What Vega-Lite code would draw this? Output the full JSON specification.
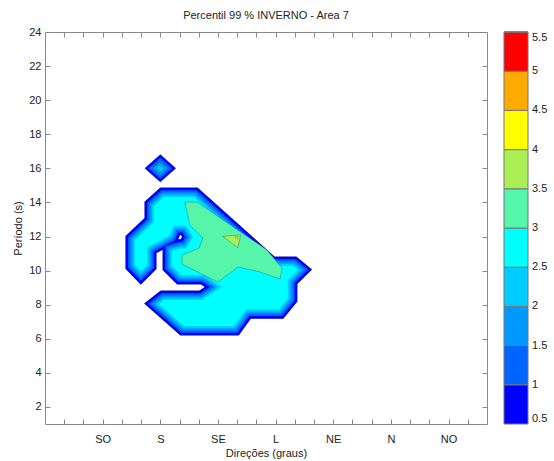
{
  "$schema": "https://vega.github.io/schema/vega-lite/v6.json",
  "padding": {"left": 12, "top": 10, "right": 2, "bottom": 4},
  "width": 442,
  "height": 392,
  "title": {"text": "Percentil 99 % INVERNO  - Area 7", "frame": "group", "offset": 5},
  "config": {
    "view": {"stroke": null},
    "font": "Liberation Sans",
    "axis": {"grid": false, "domainColor": "#888", "tickColor": "#888", "labelColor": "#222", "titleColor": "#222", "labelFont": "Liberation Sans", "titleFont": "Liberation Sans", "labelFontSize": 11, "titleFontSize": 11, "titleFontWeight": "normal", "tickSize": -5},
    "title": {"font": "Liberation Sans", "fontSize": 11, "fontWeight": "normal", "color": "#222"}
  },
  "datasets": {
    "blob": [
      {"i": 0, "X": 7.97, "Y": 14.32}, {"i": 1, "X": 8.75, "Y": 14.32}, {"i": 2, "X": 12.76, "Y": 10.27}, {"i": 3, "X": 13.90, "Y": 10.27},
      {"i": 4, "X": 14.16, "Y": 10.03}, {"i": 5, "X": 13.64, "Y": 9.45}, {"i": 6, "X": 13.64, "Y": 8.39}, {"i": 7, "X": 13.17, "Y": 7.74},
      {"i": 8, "X": 11.46, "Y": 7.74}, {"i": 9, "X": 10.83, "Y": 6.75}, {"i": 10, "X": 8.23, "Y": 6.75}, {"i": 11, "X": 6.93, "Y": 8.04},
      {"i": 12, "X": 7.19, "Y": 8.27}, {"i": 13, "X": 9.17, "Y": 8.27}, {"i": 14, "X": 10.21, "Y": 9.04}, {"i": 15, "X": 9.27, "Y": 9.74},
      {"i": 16, "X": 8.08, "Y": 9.74}, {"i": 17, "X": 7.61, "Y": 10.27}, {"i": 18, "X": 7.61, "Y": 11.15}, {"i": 19, "X": 8.02, "Y": 11.29},
      {"i": 20, "X": 8.36, "Y": 11.31}, {"i": 21, "X": 8.70, "Y": 11.97}, {"i": 22, "X": 8.36, "Y": 12.63}, {"i": 23, "X": 7.69, "Y": 12.63},
      {"i": 24, "X": 7.48, "Y": 12.06}, {"i": 25, "X": 6.31, "Y": 11.36}, {"i": 26, "X": 6.31, "Y": 10.33}, {"i": 27, "X": 5.99, "Y": 9.97},
      {"i": 28, "X": 5.68, "Y": 10.33}, {"i": 29, "X": 5.68, "Y": 11.79}, {"i": 30, "X": 6.67, "Y": 12.85}, {"i": 31, "X": 6.67, "Y": 13.79},
      {"i": 32, "X": 7.19, "Y": 14.32}, {"i": 33, "X": 7.97, "Y": 14.32}
    ],
    "polys": [
      {"p": "a1", "lvl": 0.75, "i": 0, "X": 6.192, "Y": 16}, {"p": "a1", "lvl": 0.75, "i": 1, "X": 7, "Y": 16.808}, {"p": "a1", "lvl": 0.75, "i": 2, "X": 7.808, "Y": 16}, {"p": "a1", "lvl": 0.75, "i": 3, "X": 7, "Y": 15.192}, {"p": "a1", "lvl": 0.75, "i": 4, "X": 6.192, "Y": 16},
      {"p": "a2", "lvl": 1.25, "i": 0, "X": 6.385, "Y": 16}, {"p": "a2", "lvl": 1.25, "i": 1, "X": 7, "Y": 16.615}, {"p": "a2", "lvl": 1.25, "i": 2, "X": 7.615, "Y": 16}, {"p": "a2", "lvl": 1.25, "i": 3, "X": 7, "Y": 15.385}, {"p": "a2", "lvl": 1.25, "i": 4, "X": 6.385, "Y": 16},
      {"p": "a3", "lvl": 1.75, "i": 0, "X": 6.577, "Y": 16}, {"p": "a3", "lvl": 1.75, "i": 1, "X": 7, "Y": 16.423}, {"p": "a3", "lvl": 1.75, "i": 2, "X": 7.423, "Y": 16}, {"p": "a3", "lvl": 1.75, "i": 3, "X": 7, "Y": 15.577}, {"p": "a3", "lvl": 1.75, "i": 4, "X": 6.577, "Y": 16},
      {"p": "a4", "lvl": 2.25, "i": 0, "X": 6.769, "Y": 16}, {"p": "a4", "lvl": 2.25, "i": 1, "X": 7, "Y": 16.231}, {"p": "a4", "lvl": 2.25, "i": 2, "X": 7.231, "Y": 16}, {"p": "a4", "lvl": 2.25, "i": 3, "X": 7, "Y": 15.769}, {"p": "a4", "lvl": 2.25, "i": 4, "X": 6.769, "Y": 16},
      {"p": "a5", "lvl": 2.75, "i": 0, "X": 6.94, "Y": 16}, {"p": "a5", "lvl": 2.75, "i": 1, "X": 7, "Y": 16.06}, {"p": "a5", "lvl": 2.75, "i": 2, "X": 7.06, "Y": 16}, {"p": "a5", "lvl": 2.75, "i": 3, "X": 7, "Y": 15.94}, {"p": "a5", "lvl": 2.75, "i": 4, "X": 6.94, "Y": 16},
      {"p": "b1", "lvl": 3.25, "i": 0, "X": 8.6, "Y": 14.02}, {"p": "b1", "lvl": 3.25, "i": 1, "X": 8.91, "Y": 14.02}, {"p": "b1", "lvl": 3.25, "i": 2, "X": 12.55, "Y": 11.21}, {"p": "b1", "lvl": 3.25, "i": 3, "X": 13.33, "Y": 10.15},
      {"p": "b1", "lvl": 3.25, "i": 4, "X": 13.23, "Y": 9.50}, {"p": "b1", "lvl": 3.25, "i": 5, "X": 12.19, "Y": 9.92}, {"p": "b1", "lvl": 3.25, "i": 6, "X": 11.04, "Y": 10.21}, {"p": "b1", "lvl": 3.25, "i": 7, "X": 10.00, "Y": 9.33},
      {"p": "b1", "lvl": 3.25, "i": 8, "X": 8.13, "Y": 10.38}, {"p": "b1", "lvl": 3.25, "i": 9, "X": 8.13, "Y": 10.91}, {"p": "b1", "lvl": 3.25, "i": 10, "X": 9.01, "Y": 11.32}, {"p": "b1", "lvl": 3.25, "i": 11, "X": 9.22, "Y": 11.91},
      {"p": "b1", "lvl": 3.25, "i": 12, "X": 8.54, "Y": 12.67}, {"p": "b1", "lvl": 3.25, "i": 13, "X": 8.28, "Y": 14.02}, {"p": "b1", "lvl": 3.25, "i": 14, "X": 8.6, "Y": 14.02},
      {"p": "c1", "lvl": 3.75, "i": 0, "X": 10.25, "Y": 12.01}, {"p": "c1", "lvl": 3.75, "i": 1, "X": 11.18, "Y": 12.10}, {"p": "c1", "lvl": 3.75, "i": 2, "X": 11.04, "Y": 11.34}, {"p": "c1", "lvl": 3.75, "i": 3, "X": 10.25, "Y": 12.01},
      {"p": "c2", "lvl": 4.25, "i": 0, "X": 10.89, "Y": 11.99}, {"p": "c2", "lvl": 4.25, "i": 1, "X": 11.06, "Y": 11.99}, {"p": "c2", "lvl": 4.25, "i": 2, "X": 11.0, "Y": 11.84}, {"p": "c2", "lvl": 4.25, "i": 3, "X": 10.89, "Y": 11.99}
    ]
  },
  "layer": [
    {
      "data": {"name": "blob"},
      "mark": {"type": "line", "stroke": "#1010a0", "strokeWidth": 19, "strokeJoin": "miter", "strokeMiterLimit": 10},
      "encoding": {
        "x": {"field": "X", "type": "quantitative", "scale": {"domain": [1, 24], "nice": false, "zero": false},
              "axis": {"orient": "bottom", "values": [2,3,4,5,6,7,8,9,10,11,12,13,14,15,16,17,18,19,20,21,22,23], "labelPadding": 14, "labelExpr": "datum.value==4?'SO':datum.value==7?'S':datum.value==10?'SE':datum.value==13?'L':datum.value==16?'NE':datum.value==19?'N':datum.value==22?'NO':''", "title": "Direções (graus)", "titlePadding": 3}},
        "y": {"field": "Y", "type": "quantitative", "scale": {"domain": [1, 24], "nice": false, "zero": false},
              "axis": {"orient": "left", "values": [2,4,6,8,10,12,14,16,18,20,22,24], "labelPadding": 9, "title": "Período (s)", "titlePadding": 5}},
        "order": {"field": "i", "type": "quantitative"}
      }
    },
    {
      "data": {"name": "blob"},
      "mark": {"type": "line", "stroke": "#0000ff", "strokeWidth": 18, "strokeJoin": "miter", "strokeMiterLimit": 10},
      "encoding": {
        "x": {"field": "X", "type": "quantitative", "axis": {"orient": "top", "values": [2,3,4,5,6,7,8,9,10,11,12,13,14,15,16,17,18,19,20,21,22,23], "labels": false, "title": null}},
        "y": {"field": "Y", "type": "quantitative", "axis": {"orient": "right", "values": [2,4,6,8,10,12,14,16,18,20,22,24], "labels": false, "title": null}},
        "order": {"field": "i", "type": "quantitative"}
      }
    },
    {
      "data": {"name": "blob"},
      "mark": {"type": "line", "stroke": "#0064ff", "strokeWidth": 13.5, "strokeJoin": "miter", "strokeMiterLimit": 10},
      "encoding": {
        "x": {"field": "X", "type": "quantitative", "axis": null},
        "y": {"field": "Y", "type": "quantitative", "axis": null},
        "order": {"field": "i", "type": "quantitative"}
      }
    },
    {
      "data": {"name": "blob"},
      "mark": {"type": "line", "stroke": "#0099ff", "strokeWidth": 9, "strokeJoin": "miter", "strokeMiterLimit": 10},
      "encoding": {
        "x": {"field": "X", "type": "quantitative", "axis": null},
        "y": {"field": "Y", "type": "quantitative", "axis": null},
        "order": {"field": "i", "type": "quantitative"}
      }
    },
    {
      "data": {"name": "blob"},
      "mark": {"type": "line", "stroke": "#00ccff", "strokeWidth": 4.5, "strokeJoin": "miter", "strokeMiterLimit": 10},
      "encoding": {
        "x": {"field": "X", "type": "quantitative", "axis": null},
        "y": {"field": "Y", "type": "quantitative", "axis": null},
        "order": {"field": "i", "type": "quantitative"}
      }
    },
    {
      "data": {"name": "blob"},
      "mark": {"type": "line", "fill": "#00ffff", "stroke": "#00ffff", "strokeWidth": 0},
      "encoding": {
        "x": {"field": "X", "type": "quantitative", "axis": null},
        "y": {"field": "Y", "type": "quantitative", "axis": null},
        "order": {"field": "i", "type": "quantitative"}
      }
    },
    {
      "data": {"name": "polys"},
      "mark": {"type": "line", "stroke": "#1a4a8a", "strokeWidth": 0.6, "strokeOpacity": 0.6},
      "encoding": {
        "x": {"field": "X", "type": "quantitative", "axis": null},
        "y": {"field": "Y", "type": "quantitative", "axis": null},
        "detail": {"field": "p"},
        "fill": {"field": "lvl", "type": "quantitative",
                 "scale": {"type": "quantize", "domain": [0.5, 5.5], "nice": false, "zero": false,
                           "range": ["#0000ff", "#0064ff", "#0099ff", "#00ccff", "#00ffff", "#55f5aa", "#aaf055", "#ffff00", "#ffaa00", "#ff0000"]},
                 "legend": {"type": "gradient", "title": null, "orient": "right", "offset": 16, "padding": 0, "direction": "vertical",
                            "values": [0.5, 1, 1.5, 2, 2.5, 3, 3.5, 4, 4.5, 5, 5.5], "labelExpr": "'' + datum.value",
                            "gradientLength": 392, "gradientThickness": 24, "gradientStrokeColor": "#777", "gradientStrokeWidth": 1,
                            "labelFontSize": 11, "labelFont": "Liberation Sans", "labelColor": "#222", "labelOverlap": false, "labelOffset": 4}},
        "order": {"field": "i", "type": "quantitative"}
      }
    }
  ],
  "resolve": {"axis": {"x": "independent", "y": "independent"}}
}
